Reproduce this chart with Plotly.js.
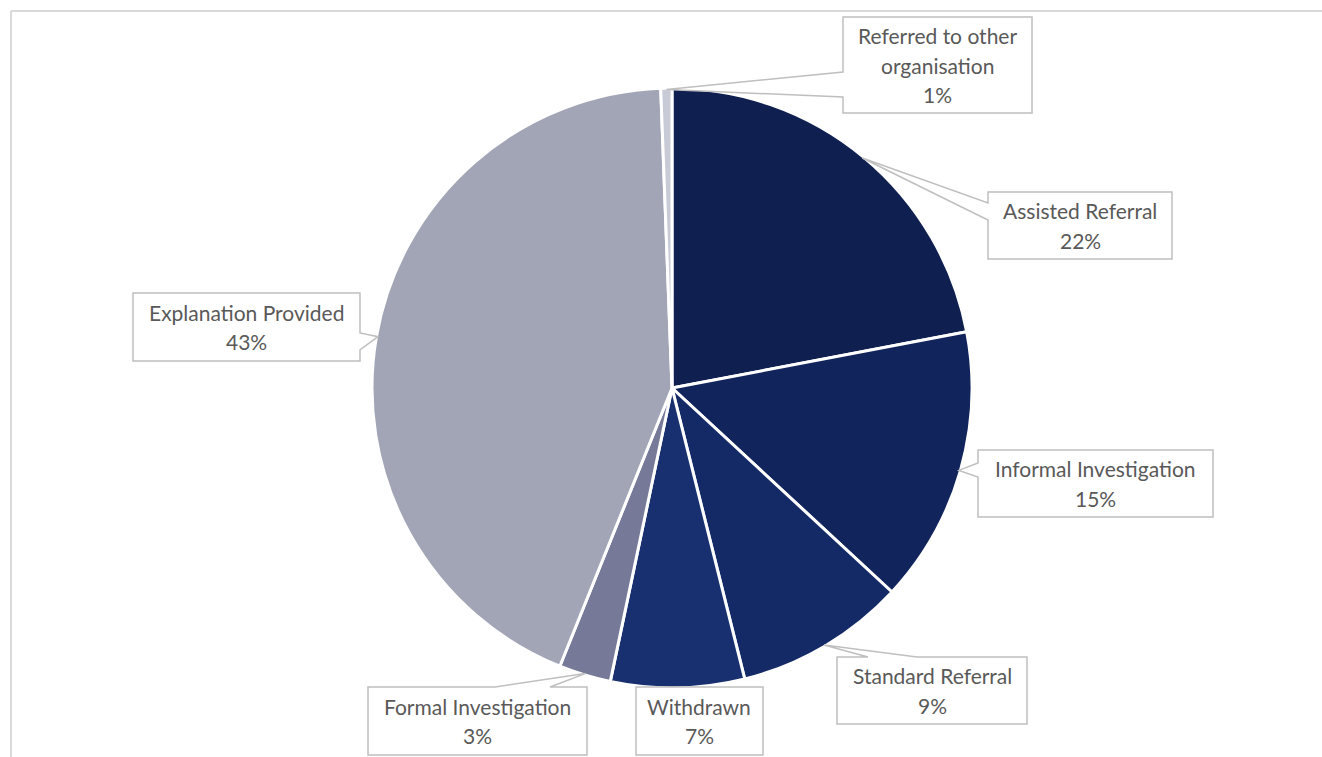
<!DOCTYPE html>
<html>
<head>
<meta charset="utf-8">
<script src="https://cdn.plot.ly/plotly-3.0.1.min.js"></script>
<style>html,body{margin:0;padding:0;background:#fff;}#chart{width:1322px;height:757px;}</style>
</head>
<body>
<div id="chart"></div>
<script>
// ---- data ----
const categories = ["Assisted Referral", "Informal Investigation", "Standard Referral", "Withdrawn", "Formal Investigation", "Explanation Provided", "Referred to other organisation"];
const values = [22.0, 14.9, 9.2, 7.2, 2.8, 43.3, 0.6];
const labelLines = [["Assisted Referral"], ["Informal Investigation"], ["Standard Referral"], ["Withdrawn"], ["Formal Investigation"], ["Explanation Provided"], ["Referred to other", "organisation"]];
const colors = ["#0F2050", "#11245B", "#142A66", "#18306F", "#767A98", "#A2A5B5", "#C8CAD6"];

// ---- layout geometry (pixels) ----
const W = 1322, H = 757;
const pieCx = 672, pieCy = 388, pieR = 300;
const lineGap = 29.5;
// callout boxes: [x0, y0, x1, y1], wedge side, wedge base coords along that side
const boxes = [
  {box: [988, 192, 1172, 259], side: "left", base: [203, 220]},
  {box: [978, 450, 1213, 517], side: "left", base: [463, 477]},
  {box: [837, 657, 1027, 724], side: "top", base: [868, 917]},
  {box: [636, 687, 763, 755], side: "none", base: []},
  {box: [368, 687, 587, 755], side: "top", base: [495, 550]},
  {box: [133, 293, 360, 361], side: "right", base: [333, 350]},
  {box: [843, 17, 1032, 113], side: "left", base: [72, 97]}
];

const px = x => x / W;
const py = y => 1 - y / H;

const total = values.reduce((a, b) => a + b, 0);
let cum = 0;
const shapes = [];
const annotations = [];
values.forEach((v, i) => {
  const mid = (cum + v / 2) / total * 2 * Math.PI;
  cum += v;
  const tx = pieCx + pieR * 0.995 * Math.sin(mid);
  const ty = pieCy - pieR * 0.995 * Math.cos(mid);
  const b = boxes[i];
  const [x0, y0, x1, y1] = b.box;
  let pts;
  if (b.side === "left") {
    pts = [[x0, y0], [x1, y0], [x1, y1], [x0, y1], [x0, b.base[1]], [tx, ty], [x0, b.base[0]]];
  } else if (b.side === "right") {
    pts = [[x0, y0], [x1, y0], [x1, b.base[0]], [tx, ty], [x1, b.base[1]], [x1, y1], [x0, y1]];
  } else if (b.side === "top") {
    pts = [[x0, y0], [b.base[0], y0], [tx, ty], [b.base[1], y0], [x1, y0], [x1, y1], [x0, y1]];
  } else {
    pts = [[x0, y0], [x1, y0], [x1, y1], [x0, y1]];
  }
  const path = "M " + pts.map(p => px(p[0]).toFixed(5) + "," + py(p[1]).toFixed(5)).join(" L ") + " Z";
  shapes.push({type: "path", xref: "paper", yref: "paper", path: path,
    fillcolor: "#FFFFFF", line: {color: "#BFBFBF", width: 1.5}, layer: "above"});
  const pct = Math.round(v / total * 100) + "%";
  const lines = labelLines[i].concat([pct]);
  const cy = (y0 + y1) / 2;
  lines.forEach((t, k) => {
    const ly = cy + (k - (lines.length - 1) / 2) * lineGap;
    annotations.push({
      xref: "paper", yref: "paper",
      x: px((x0 + x1) / 2), y: py(ly),
      xanchor: "center", yanchor: "middle",
      text: t,
      showarrow: false,
      font: {family: "Lato, 'Open Sans', sans-serif", size: 21, color: "#595959"},
      align: "center"
    });
  });
});

// chart frame lines
shapes.push({type: "line", xref: "paper", yref: "paper", x0: px(11), y0: py(11), x1: 1, y1: py(11), line: {color: "#D9D9D9", width: 2}, layer: "below"});
shapes.push({type: "line", xref: "paper", yref: "paper", x0: px(11), y0: py(11), x1: px(11), y1: 0, line: {color: "#D9D9D9", width: 2}, layer: "below"});

const trace = {
  type: "pie",
  labels: categories,
  values: values,
  sort: false,
  direction: "clockwise",
  rotation: 0,
  textinfo: "none",
  hoverinfo: "label+percent",
  marker: {colors: colors, line: {color: "#FFFFFF", width: 3}},
  domain: {x: [px(pieCx - pieR), px(pieCx + pieR)], y: [py(pieCy + pieR), py(pieCy - pieR)]},
  showlegend: false
};

const layout = {
  width: W, height: H,
  margin: {l: 0, r: 0, t: 0, b: 0},
  paper_bgcolor: "#FFFFFF",
  showlegend: false,
  shapes: shapes,
  annotations: annotations
};

Plotly.newPlot("chart", [trace], layout, {displayModeBar: false, staticPlot: true});
</script>
</body>
</html>
